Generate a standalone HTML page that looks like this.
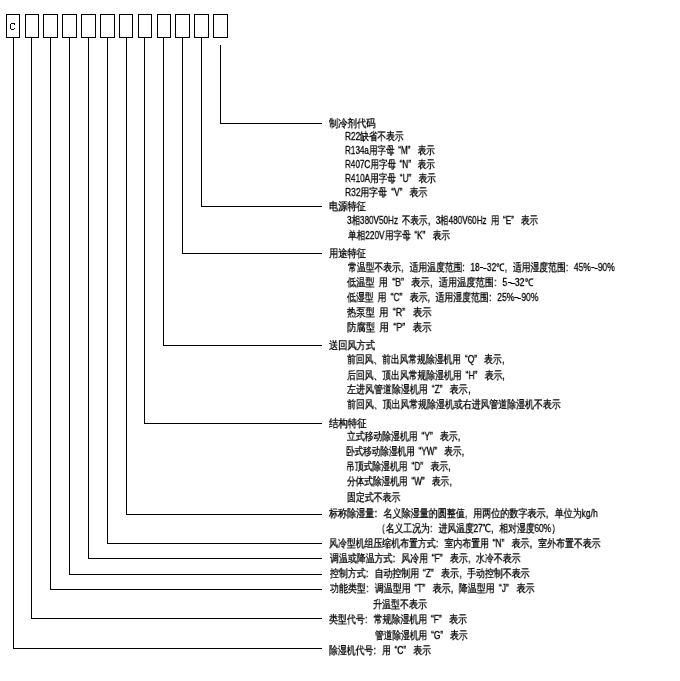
<!DOCTYPE html><html><head><meta charset="utf-8"><style>
html,body{margin:0;padding:0;background:#fff;}
body{width:680px;height:681px;overflow:hidden;position:relative;}
.t{position:absolute;white-space:nowrap;font-family:"Liberation Sans",sans-serif;font-size:10.5px;line-height:10.5px;color:#000;transform-origin:0 0;font-weight:var(--fw,400);}
.l{font-size:10.5px;}
.qo{display:inline-block;width:0.8em;text-align:right;}
.qc{display:inline-block;width:1.2em;text-align:left;}
.sp{display:inline-block;width:0.5em;}
.co{display:inline-block;width:1em;text-align:left;padding-left:0.05em;box-sizing:border-box;}
.cm{display:inline-block;width:1em;text-align:left;padding-left:0.05em;box-sizing:border-box;}
.tl{display:inline-block;width:0.85em;height:1em;position:relative;vertical-align:top;}
.tl i{position:absolute;left:0.05em;width:0.4em;top:0.48em;height:1px;background:#000;}
.tl b{position:absolute;left:0.4em;width:0.42em;top:0.56em;height:1px;background:#000;}
.t{-webkit-text-stroke:0.3px #000;will-change:transform;}
svg{position:absolute;left:0;top:0;}
</style></head><body><svg width="680" height="681" viewBox="0 0 680 681" shape-rendering="crispEdges"><rect x="6" y="14" width="14" height="1" fill="#000"/><rect x="6" y="37" width="14" height="1" fill="#000"/><rect x="6" y="14" width="1" height="24" fill="#000"/><rect x="19" y="14" width="1" height="24" fill="#000"/><rect x="25" y="14" width="14" height="1" fill="#000"/><rect x="25" y="37" width="14" height="1" fill="#000"/><rect x="25" y="14" width="1" height="24" fill="#000"/><rect x="38" y="14" width="1" height="24" fill="#000"/><rect x="43" y="14" width="15" height="1" fill="#000"/><rect x="43" y="37" width="15" height="1" fill="#000"/><rect x="43" y="14" width="1" height="24" fill="#000"/><rect x="57" y="14" width="1" height="24" fill="#000"/><rect x="62" y="14" width="15" height="1" fill="#000"/><rect x="62" y="37" width="15" height="1" fill="#000"/><rect x="62" y="14" width="1" height="24" fill="#000"/><rect x="76" y="14" width="1" height="24" fill="#000"/><rect x="81" y="14" width="15" height="1" fill="#000"/><rect x="81" y="37" width="15" height="1" fill="#000"/><rect x="81" y="14" width="1" height="24" fill="#000"/><rect x="95" y="14" width="1" height="24" fill="#000"/><rect x="100" y="14" width="15" height="1" fill="#000"/><rect x="100" y="37" width="15" height="1" fill="#000"/><rect x="100" y="14" width="1" height="24" fill="#000"/><rect x="114" y="14" width="1" height="24" fill="#000"/><rect x="119" y="14" width="14" height="1" fill="#000"/><rect x="119" y="37" width="14" height="1" fill="#000"/><rect x="119" y="14" width="1" height="24" fill="#000"/><rect x="132" y="14" width="1" height="24" fill="#000"/><rect x="138" y="14" width="14" height="1" fill="#000"/><rect x="138" y="37" width="14" height="1" fill="#000"/><rect x="138" y="14" width="1" height="24" fill="#000"/><rect x="151" y="14" width="1" height="24" fill="#000"/><rect x="157" y="14" width="14" height="1" fill="#000"/><rect x="157" y="37" width="14" height="1" fill="#000"/><rect x="157" y="14" width="1" height="24" fill="#000"/><rect x="170" y="14" width="1" height="24" fill="#000"/><rect x="175" y="14" width="15" height="1" fill="#000"/><rect x="175" y="37" width="15" height="1" fill="#000"/><rect x="175" y="14" width="1" height="24" fill="#000"/><rect x="189" y="14" width="1" height="24" fill="#000"/><rect x="194" y="14" width="15" height="1" fill="#000"/><rect x="194" y="37" width="15" height="1" fill="#000"/><rect x="194" y="14" width="1" height="24" fill="#000"/><rect x="208" y="14" width="1" height="24" fill="#000"/><rect x="213" y="14" width="15" height="1" fill="#000"/><rect x="213" y="37" width="15" height="1" fill="#000"/><rect x="213" y="14" width="1" height="24" fill="#000"/><rect x="227" y="14" width="1" height="24" fill="#000"/><rect x="13" y="38" width="1" height="611" fill="#000"/><rect x="13" y="648" width="309" height="1" fill="#000"/><rect x="31" y="38" width="1" height="581" fill="#000"/><rect x="31" y="618" width="291" height="1" fill="#000"/><rect x="50" y="38" width="1" height="552" fill="#000"/><rect x="50" y="589" width="272" height="1" fill="#000"/><rect x="69" y="38" width="1" height="537" fill="#000"/><rect x="69" y="574" width="253" height="1" fill="#000"/><rect x="88" y="38" width="1" height="521" fill="#000"/><rect x="88" y="558" width="234" height="1" fill="#000"/><rect x="107" y="38" width="1" height="506" fill="#000"/><rect x="107" y="543" width="215" height="1" fill="#000"/><rect x="126" y="38" width="1" height="477" fill="#000"/><rect x="126" y="514" width="196" height="1" fill="#000"/><rect x="144" y="38" width="1" height="386" fill="#000"/><rect x="144" y="423" width="178" height="1" fill="#000"/><rect x="163" y="38" width="1" height="308" fill="#000"/><rect x="163" y="345" width="159" height="1" fill="#000"/><rect x="182" y="38" width="1" height="216" fill="#000"/><rect x="182" y="253" width="140" height="1" fill="#000"/><rect x="201" y="38" width="1" height="169" fill="#000"/><rect x="201" y="206" width="121" height="1" fill="#000"/><rect x="220" y="45" width="1" height="79" fill="#000"/><rect x="220" y="123" width="102" height="1" fill="#000"/></svg><svg width="680" height="681" shape-rendering="crispEdges"><rect x="11" y="23" width="4" height="1" fill="#000"/><rect x="10" y="24" width="1" height="5" fill="#000"/><rect x="14" y="24" width="1" height="1" fill="#000"/><rect x="14" y="28" width="1" height="1" fill="#000"/><rect x="11" y="29" width="3" height="1" fill="#000"/></svg><div class="t" style="left:328.50px;top:117.50px;transform:scaleX(0.8455)">制冷剂代码</div><div class="t" style="left:345.21px;top:131.00px;transform:scaleX(0.7911)"><span class="l">R22</span>缺省不表示</div><div class="t" style="left:345.23px;top:145.00px;transform:scaleX(0.7739)"><span class="l">R134a</span>用字母<span class="qo">“</span><span class="l">M</span><span class="qc">”</span>表示</div><div class="t" style="left:345.23px;top:159.00px;transform:scaleX(0.7739)"><span class="l">R407C</span>用字母<span class="qo">“</span><span class="l">N</span><span class="qc">”</span>表示</div><div class="t" style="left:345.22px;top:173.00px;transform:scaleX(0.7826)"><span class="l">R410A</span>用字母<span class="qo">“</span><span class="l">U</span><span class="qc">”</span>表示</div><div class="t" style="left:345.19px;top:186.50px;transform:scaleX(0.8069)"><span class="l">R32</span>用字母<span class="qo">“</span><span class="l">V</span><span class="qc">”</span>表示</div><div class="t" style="left:329.16px;top:200.50px;transform:scaleX(0.8372)">电源特征</div><div class="t" style="left:347.00px;top:215.00px;transform:scaleX(0.7733)"><span class="l">3</span>相<span class="l">380V50Hz</span><span class="sp"> </span>不表示<span class="cm">,</span><span class="l">3</span>相<span class="l">480V60Hz</span><span class="sp"> </span>用<span class="qo">“</span><span class="l">E</span><span class="qc">”</span>表示</div><div class="t" style="left:347.50px;top:229.50px;transform:scaleX(0.7846)">单相<span class="l">220V</span>用字母<span class="qo">“</span><span class="l">K</span><span class="qc">”</span>表示</div><div class="t" style="left:329.00px;top:247.50px;transform:scaleX(0.8409)">用途特征</div><div class="t" style="left:347.50px;top:262.00px;transform:scaleX(0.8003)">常温型不表示<span class="cm">,</span>适用温度范围<span class="co">:</span><span class="l">18</span><span class="tl"><i></i><b></b></span><span class="l">32</span>℃<span class="cm">,</span>适用湿度范围<span class="co">:</span><span class="l">45%</span><span class="tl"><i></i><b></b></span><span class="l">90%</span></div><div class="t" style="left:346.50px;top:277.00px;transform:scaleX(0.8345)">低温型<span class="sp"> </span>用<span class="qo">“</span><span class="l">B</span><span class="qc">”</span>表示<span class="cm">,</span>适用温度范围<span class="co">:</span><span class="l">5</span><span class="tl"><i></i><b></b></span><span class="l">32</span>℃</div><div class="t" style="left:346.50px;top:291.50px;transform:scaleX(0.8046)">低湿型<span class="sp"> </span>用<span class="qo">“</span><span class="l">C</span><span class="qc">”</span>表示<span class="cm">,</span>适用湿度范围<span class="co">:</span><span class="l">25%</span><span class="tl"><i></i><b></b></span><span class="l">90%</span></div><div class="t" style="left:346.50px;top:306.50px;transform:scaleX(0.8450)">热泵型<span class="sp"> </span>用<span class="qo">“</span><span class="l">R</span><span class="qc">”</span>表示</div><div class="t" style="left:346.50px;top:321.50px;transform:scaleX(0.8535)">防腐型<span class="sp"> </span>用<span class="qo">“</span><span class="l">P</span><span class="qc">”</span>表示</div><div class="t" style="left:329.00px;top:339.50px;transform:scaleX(0.8364)">送回风方式</div><div class="t" style="left:347.00px;top:354.00px;transform:scaleX(0.7970)">前回风、前出风常规除湿机用<span class="qo">“</span><span class="l">Q</span><span class="qc">”</span>表示<span class="cm">,</span></div><div class="t" style="left:347.00px;top:369.50px;transform:scaleX(0.8010)">后回风、顶出风常规除湿机用<span class="qo">“</span><span class="l">H</span><span class="qc">”</span>表示<span class="cm">,</span></div><div class="t" style="left:347.00px;top:384.00px;transform:scaleX(0.8146)">左进风管道除湿机用<span class="qo">“</span><span class="l">Z</span><span class="qc">”</span>表示<span class="cm">,</span></div><div class="t" style="left:347.00px;top:399.00px;transform:scaleX(0.8091)">前回风、顶出风常规除湿机或右进风管道除湿机不表示</div><div class="t" style="left:329.00px;top:417.50px;transform:scaleX(0.8523)">结构特征</div><div class="t" style="left:347.00px;top:431.00px;transform:scaleX(0.8014)">立式移动除湿机用<span class="qo">“</span><span class="l">Y</span><span class="qc">”</span>表示<span class="cm">,</span></div><div class="t" style="left:346.22px;top:445.50px;transform:scaleX(0.7800)">卧式移动除湿机用<span class="qo">“</span><span class="l">YW</span><span class="qc">”</span>表示<span class="cm">,</span></div><div class="t" style="left:346.20px;top:460.50px;transform:scaleX(0.7984)">吊顶式除湿机用<span class="qo">“</span><span class="l">D</span><span class="qc">”</span>表示<span class="cm">,</span></div><div class="t" style="left:347.00px;top:475.50px;transform:scaleX(0.7857)">分体式除湿机用<span class="qo">“</span><span class="l">W</span><span class="qc">”</span>表示<span class="cm">,</span></div><div class="t" style="left:346.69px;top:491.50px;transform:scaleX(0.8077)">固定式不表示</div><div class="t" style="left:328.50px;top:508.00px;transform:scaleX(0.8236)">标称除湿量<span class="co">:</span>名义除湿量的圆整值<span class="cm">,</span>用两位的数字表示<span class="cm">,</span>单位为<span class="l">kg/h</span></div><div class="t" style="left:377.40px;top:522.50px;transform:scaleX(0.8000)">（名义工况为<span class="co">:</span>进风温度<span class="l">27</span>℃<span class="cm">,</span>相对湿度<span class="l">60%</span>）</div><div class="t" style="left:328.50px;top:538.00px;transform:scaleX(0.8080)">风冷型机组压缩机布置方式<span class="co">:</span>室内布置用<span class="qo">“</span><span class="l">N</span><span class="qc">”</span>表示<span class="cm">,</span>室外布置不表示</div><div class="t" style="left:329.50px;top:552.50px;transform:scaleX(0.8106)">调温或降温方式<span class="co">:</span>风冷用<span class="qo">“</span><span class="l">F</span><span class="qc">”</span>表示<span class="cm">,</span>水冷不表示</div><div class="t" style="left:329.50px;top:567.50px;transform:scaleX(0.8110)">控制方式<span class="co">:</span>自动控制用<span class="qo">“</span><span class="l">Z</span><span class="qc">”</span>表示<span class="cm">,</span>手动控制不表示</div><div class="t" style="left:329.50px;top:583.00px;transform:scaleX(0.8147)">功能类型<span class="co">:</span>调温型用<span class="qo">“</span><span class="l">T</span><span class="qc">”</span>表示<span class="cm">,</span>降温型用<span class="qo">“</span><span class="l">J</span><span class="qc">”</span>表示</div><div class="t" style="left:373.00px;top:599.00px;transform:scaleX(0.8182)">升温型不表示</div><div class="t" style="left:329.00px;top:614.00px;transform:scaleX(0.8118)">类型代号<span class="co">:</span>常规除湿机用<span class="qo">“</span><span class="l">F</span><span class="qc">”</span>表示</div><div class="t" style="left:374.50px;top:629.50px;transform:scaleX(0.7906)">管道除湿机用<span class="qo">“</span><span class="l">G</span><span class="qc">”</span>表示</div><div class="t" style="left:329.00px;top:644.50px;transform:scaleX(0.8031)">除湿机代号<span class="co">:</span>用<span class="qo">“</span><span class="l">C</span><span class="qc">”</span>表示</div></body></html>
